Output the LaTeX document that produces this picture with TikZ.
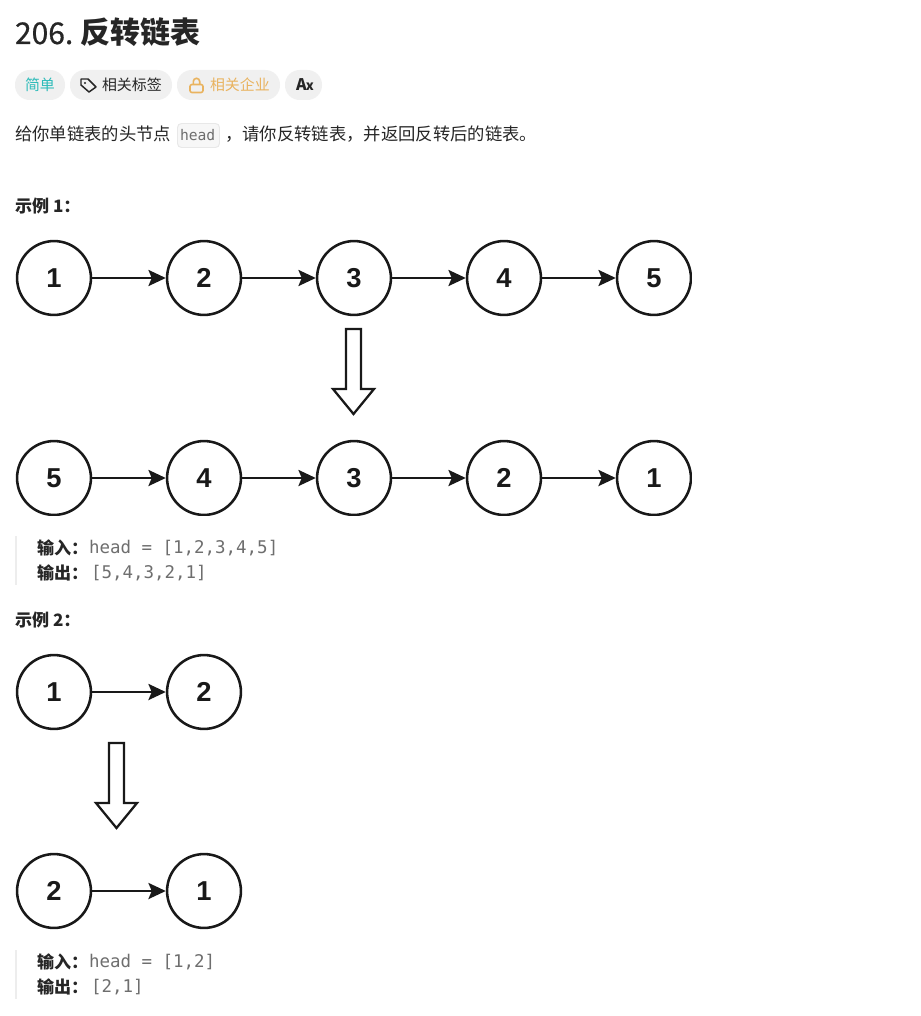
\documentclass[tikz,border=0pt]{standalone}
\usepackage{fontspec}
\setmainfont{Noto Sans CJK SC}
\newfontfamily\cjk{Noto Sans CJK SC}
\newfontfamily\titlenumfont[FakeBold=0.6]{Noto Sans CJK SC}
\newfontfamily\codefont{DejaVu Sans Mono}
\newfontfamily\digitfont{Liberation Sans}
\usetikzlibrary{arrows.meta}
\definecolor{ink}{HTML}{262626}
\definecolor{pill}{HTML}{F0F0F0}
\definecolor{teal1}{HTML}{2CBBB9}
\definecolor{gold1}{HTML}{E9B35F}
\definecolor{codegray}{HTML}{6E6E6E}
\tikzset{
  txt/.style={anchor=base west,inner sep=0pt,outer sep=0pt,text=ink},
  titletxt/.style={txt,font=\fontsize{22.5}{26}\selectfont\bfseries},
  bodytxt/.style={txt,font=\fontsize{13}{16}\selectfont},
  headtxt/.style={txt,font=\fontsize{12.8}{16}\selectfont\bfseries},
  codetxt/.style={anchor=base west,inner sep=0pt,outer sep=0pt,text=codegray,font=\codefont\fontsize{13.1}{16}\selectfont},
  pilltxt/.style={anchor=base west,inner sep=0pt,outer sep=0pt,font=\fontsize{11.2}{14}\selectfont},
  pillbox/.style={fill=pill,draw=none,rounded corners=11pt},
  listnode/.style={circle,draw=black!90,line width=1.9pt,minimum size=55.4pt,inner sep=0pt,fill=white,font=\digitfont\bfseries\fontsize{20.5}{24}\selectfont,text=black!90},
  link/.style={draw=black!90,line width=2pt,-{Stealth[length=13pt,width=12pt,inset=2.5pt]},shorten >=0pt},
  blockarrow/.style={draw=black!90,line width=1.7pt,fill=white,line join=miter},
  bar/.style={fill=black!7,draw=none}
}
\begin{document}
\begin{tikzpicture}[x=0.75pt,y=-0.75pt]
\useasboundingbox (0,0) rectangle (920,1016);
\fill[white] (0,0) rectangle (920,1016);
% header
\node[txt,font=\titlenumfont\fontsize{22.5}{26}\selectfont] (titlenum) at (15,44) {206.};
\node[titletxt] (title) at (80,44) {反转链表};
\fill[pillbox] (15,70) rectangle (65,100);
\fill[pillbox] (70,70) rectangle (172,100);
\fill[pillbox] (177,70) rectangle (280,100);
\fill[pillbox] (285,70) rectangle (322,100);
\node[pilltxt,text=teal1] (easy) at (25,91) {简单};
\node[pilltxt,text=ink] (tags) at (102,91) {相关标签};
\node[pilltxt,text=gold1] (comp) at (210,91) {相关企业};
\node[pilltxt,text=ink,font=\fontsize{12}{14}\selectfont\bfseries] (lang) at (296,90.5) {A\kern-0.5pt\fontsize{10}{10}\selectfont x};
% tag icon
\draw[ink,line width=1.1pt,line join=round] (81,79) -- (88,79) -- (96,87) -- (89,92) -- (81,85) -- cycle;
\fill[ink] (85,83) circle (1.1);
% lock icon
\draw[gold1,line width=1.2pt,rounded corners=1.5pt] (190,84.5) rectangle (203,92.5);
\draw[gold1,line width=1.2pt] (193.3,84.5) -- (193.3,81.5) arc[start angle=180,end angle=360,radius=3.2] -- (199.7,84.5);
% description
\node[bodytxt] (d1) at (15,141) {给你单链表的头节点};
\draw[fill=black!3,draw=black!9,line width=0.7pt,rounded corners=3pt] (177.5,123.5) rectangle (219.5,147.5);
\node[codetxt,font=\codefont\fontsize{11}{14}\selectfont] (d2) at (180,141) {head};
\node[bodytxt] (d3) at (225,141) {，请你反转链表，并返回反转后的链表。};
% example 1
\node[headtxt] (ex1) at (15,213) {示例 1：};
\foreach \n/\x/\v in {a1/54/1,a2/204/2,a3/354/3,a4/504/4,a5/654/5}
  \node[listnode] (\n) at (\x,278) {\v};
\foreach \p/\q in {a1/a2,a2/a3,a3/a4,a4/a5}
  \draw[link] (\p) -- (\q);
\draw[blockarrow] (346,329) -- (361,329) -- (361,389) -- (374,389) -- (353.5,414) -- (333,389) -- (346,389) -- cycle;
\foreach \n/\x/\v in {b1/54/5,b2/204/4,b3/354/3,b4/504/2,b5/654/1}
  \node[listnode] (\n) at (\x,478) {\v};
\foreach \p/\q in {b1/b2,b2/b3,b3/b4,b4/b5}
  \draw[link] (\p) -- (\q);
\fill[white] (0,515.5) rectangle (720,530);
\fill[white] (692,230) rectangle (720,530);
\fill[bar] (15,536) rectangle (17,585);
\node[headtxt] (in1) at (37,554) {输入：};
\node[codetxt] (in1v) at (89,553) {head = [1,2,3,4,5]};
\node[headtxt] (out1) at (37,579) {输出：};
\node[codetxt] (out1v) at (91,578) {[5,4,3,2,1]};
% example 2
\node[headtxt] (ex2) at (15,626) {示例 2：};
\node[listnode] (c1) at (54,692) {1};
\node[listnode] (c2) at (204,692) {2};
\draw[link] (c1) -- (c2);
\draw[blockarrow] (109,743) -- (124,743) -- (124,803) -- (137,803) -- (116.5,828) -- (96,803) -- (109,803) -- cycle;
\node[listnode] (e1) at (54,891) {2};
\node[listnode] (e2) at (204,891) {1};
\draw[link] (e1) -- (e2);
\fill[bar] (15,950) rectangle (17,999);
\node[headtxt] (in2) at (37,968) {输入：};
\node[codetxt] (in2v) at (89,967) {head = [1,2]};
\node[headtxt] (out2) at (37,993) {输出：};
\node[codetxt] (out2v) at (91,992) {[2,1]};
\end{tikzpicture}
\end{document}
